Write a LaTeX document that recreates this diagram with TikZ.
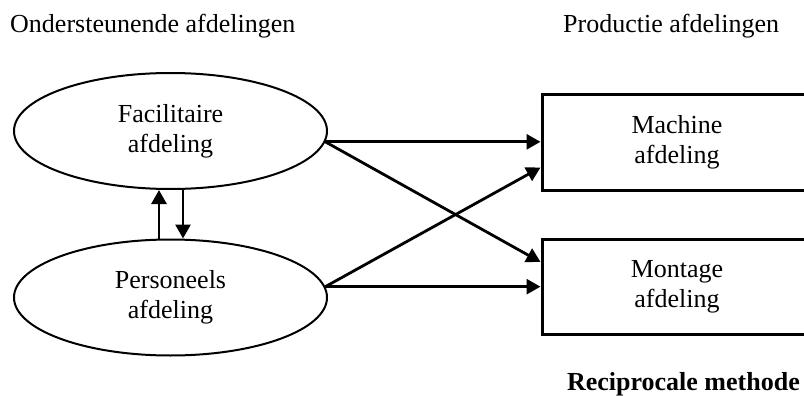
\documentclass[tikz,border=0pt]{standalone}
\usepackage{fontspec}
\setmainfont{Liberation Serif}
\usetikzlibrary{shapes.geometric,arrows.meta}

\tikzset{
  dept/.style={ellipse, draw, line width=2pt, minimum width=313pt, minimum height=116pt,
    inner sep=0pt, align=center, font=\fontsize{26}{30}\selectfont},
  prodbox/.style={rectangle, draw, line width=3pt, minimum width=270pt, minimum height=95pt,
    inner sep=0pt, align=center, font=\fontsize{26}{30}\selectfont},
  heading/.style={inner sep=0pt, font=\fontsize{26}{30}\selectfont},
  flow/.style={line width=2.8pt, -{Triangle[length=14pt,width=15pt]}}
}

\begin{document}
\begin{tikzpicture}[x=1pt, y=-1pt]
  \useasboundingbox (0,0) rectangle (804,396);
  \clip (0,0) rectangle (804,396);

  % column headings
  \node[heading, anchor=base west] (lefthead) at (10,33) {Ondersteunende afdelingen};
  \node[heading, anchor=base west] (righthead) at (563,33) {Productie afdelingen};

  % supporting departments
  \node[dept] (fac) at (170.5,131) {Facilitaire\\afdeling};
  \node[dept] (pers) at (170.5,297.5) {Personeels\\afdeling};

  % production departments (right side runs past the page edge)
  \node[prodbox] (mach) at (677,142.5) {Machine\\afdeling};
  \node[prodbox] (mont) at (677,287) {Montage\\afdeling};

  % mutual services between the supporting departments
  \draw[flow] ([xshift=-11.5pt]pers.north) -- ([xshift=-11.5pt]fac.south);
  \draw[flow] ([xshift=12.5pt]fac.south) -- ([xshift=12.5pt]pers.north);

  % allocations to the production departments
  \draw[flow] (fac.-4) -- (fac.-4 -| mach.west);
  \draw[flow] (fac.-4) -- ([yshift=25pt]mont.west);
  \draw[flow] (pers.4) -- ([yshift=-25pt]mach.west);
  \draw[flow] (pers.4) -- (pers.4 -| mont.west);

  % caption
  \node[heading, anchor=base east, font=\fontsize{26}{30}\selectfont\bfseries] (caption) at (800,390) {Reciprocale methode};
\end{tikzpicture}
\end{document}
